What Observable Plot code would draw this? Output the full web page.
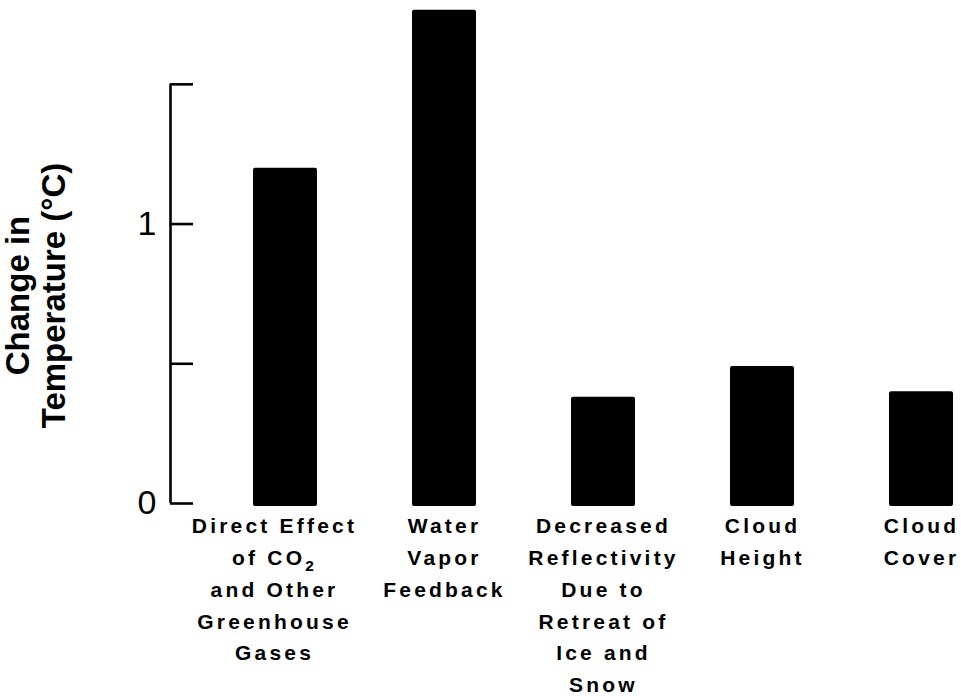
<!DOCTYPE html>
<html>
<head>
<meta charset="utf-8">
<script src="https://cdn.jsdelivr.net/npm/d3@7"></script>
<script src="https://cdn.jsdelivr.net/npm/@observablehq/plot@0.6"></script>
<style>
  html, body { margin: 0; padding: 0; background: #fff; }
  #chart svg { display: block; }
</style>
</head>
<body>
<div id="chart"></div>
<script>
// Categories (bars, left to right)
const categories = [
  "Direct Effect of CO2 and Other Greenhouse Gases",
  "Water Vapor Feedback",
  "Decreased Reflectivity Due to Retreat of Ice and Snow",
  "Cloud Height",
  "Cloud Cover"
];
// Category labels as printed under the bars
const categoryLabels = [
  "Direct Effect\nof CO₂\nand Other\nGreenhouse\nGases",
  "Water\nVapor\nFeedback",
  "Decreased\nReflectivity\nDue to\nRetreat of\nIce and\nSnow",
  "Cloud\nHeight",
  "Cloud\nCover"
];
// Change in temperature (°C)
const values = [1.2, 1.765, 0.38, 0.49, 0.40];
// Y axis ticks and labelled ticks
const yTicks = [0, 0.5, 1, 1.5];
const yTickLabels = [0, 1];
const yTitle = "Change in\nTemperature (°C)";

const data = categories.map((c, i) => ({category: c, label: categoryLabels[i], value: values[i]}));

const W = 961, H = 696;
const marginLeft = 170, marginRight = 0, marginTop = 0, marginBottom = 193;
const frameW = W - marginLeft - marginRight;
const frameCx = (marginLeft + W - marginRight) / 2;
const frameCy = (marginTop + H - marginBottom) / 2;

const labelStyle = {x: "category", text: "label", frameAnchor: "bottom", lineAnchor: "top", dy: 7, lineHeight: 1.515, fontSize: 21, fontWeight: "bold", fill: "#000"};

const chart = Plot.plot({
  width: W,
  height: H,
  marginLeft, marginRight, marginTop, marginBottom,
  style: {fontFamily: "'Liberation Sans', Arial, Helvetica, sans-serif", color: "#000", background: "#fff"},
  x: {domain: categories, range: [252, 953], paddingInner: 0.6, paddingOuter: 0, axis: null},
  y: {domain: [0, 1.8], axis: null},
  marks: [
    Plot.barY(data, {x: "category", y: "value", fill: "#000", rx: 2, insetBottom: -3}),
    // axis line
    Plot.ruleX([yTicks[yTicks.length - 1]], {x: null, y1: 0, y2: d => d, dx: marginLeft - frameCx, stroke: "#000", strokeWidth: 2.6}),
    // ticks pointing inward
    Plot.ruleY(yTicks, {y: d => d, insetRight: frameW - 23, stroke: "#000", strokeWidth: 2.6}),
    // tick labels
    Plot.text(yTickLabels, {y: d => d, text: d => String(d), frameAnchor: "left", textAnchor: "end", dx: -14, fontSize: 34, fill: "#000"}),
    // category labels (the first one sits a little left of its bar in the original)
    Plot.text(data.slice(0, 1), {...labelStyle, dx: -11}),
    Plot.text(data.slice(1), {...labelStyle}),
    // y title
    Plot.text([yTitle], {text: d => d, frameAnchor: "left", textAnchor: "middle", rotate: -90, dx: 35 - marginLeft, dy: 295 - frameCy, lineAnchor: "middle", lineHeight: 1.09, fontSize: 33, fontWeight: "bold", fill: "#000"})
  ]
});
// widen the letter spacing of the category labels, as in the printed figure
d3.select(chart).selectAll('g[font-size="21"] text').style("letter-spacing", "3.2px");
// typeset the subscript in CO2 as a lowered digit
d3.select(chart).selectAll("tspan").each(function() {
  if (this.textContent === "of CO₂") {
    const t = d3.select(this);
    t.text("of CO");
    t.append("tspan").attr("font-size", 15.5).attr("baseline-shift", -6).text("2");
  }
});
document.getElementById("chart").appendChild(chart);
</script>
</body>
</html>
